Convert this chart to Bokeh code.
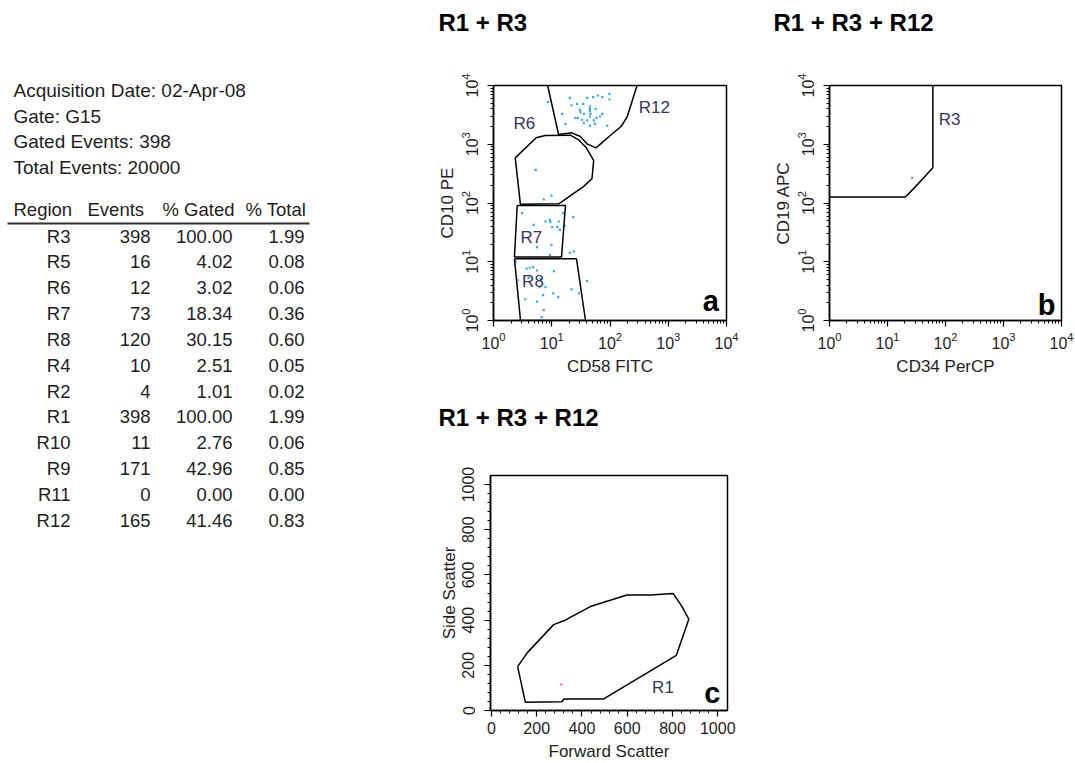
from bokeh.plotting import figure
from bokeh.layouts import row, column, Spacer
from bokeh.models import Range1d, FixedTicker, Label, ColumnDataSource
from bokeh.core.properties import value
from bokeh.embed import file_html
from bokeh.resources import INLINE

FONT = "Liberation Sans"
TXT = "#1e1e1e"
GATE_TXT = "#35385a"
DOT_BLUE = "#3aa6ee"
DOT_RED = "#ff6a6a"

# ---------------- statistics block ----------------
info_lines = ["Acquisition Date: 02-Apr-08", "Gate: G15", "Gated Events: 398", "Total Events: 20000"]
table_headers = ["Region", "Events", "% Gated", "% Total"]
regions = ["R3", "R5", "R6", "R7", "R8", "R4", "R2", "R1", "R10", "R9", "R11", "R12"]
events = [398, 16, 12, 73, 120, 10, 4, 398, 11, 171, 0, 165]
pct_gated = [100.00, 4.02, 3.02, 18.34, 30.15, 2.51, 1.01, 100.00, 2.76, 42.96, 0.00, 41.46]
pct_total = [1.99, 0.08, 0.06, 0.36, 0.60, 0.05, 0.02, 1.99, 0.06, 0.85, 0.00, 0.83]

# ---------------- panel a: CD58 FITC vs CD10 PE ----------------
a_dots_x = [8.6, 20.4, 40.6, 51.4, 61.8, 73.5, 98, 98, 27.3, 34.6, 45.1, 21.8, 15.1, 30.3, 35.6, 45.1, 46.2,
            56.4, 73.5, 67, 58.6, 45.1, 28.1, 25.6, 33.3, 40.6, 52.7, 55, 45.1, 35.6, 17.2, 89.5, 31.2, 45.1,
            7.3, 9.9, 5.3,
            3.1, 4.9, 7.8, 9.3, 9.5, 13.2, 15.7, 10.2, 12.4, 13.8, 16.6, 23.4, 5.6, 9.9, 9.3, 20.4, 23.9, 2.4,
            3.7, 4.2, 4.8, 5.6, 10.9, 2.6, 6.2, 7.8, 10.6, 12.9, 21.8, 29.2, 40.6, 3.5, 5.6, 7.1, 7.3, 6.7,
            4.5, 4.0, 6.4]
a_dots_y = [5200, 6170, 6170, 6320, 6760, 6320, 7210, 5780, 4880, 4880, 4400, 4570, 3300, 3860, 3300, 3660, 3300,
            4010, 3300, 2970, 2820, 2970, 2820, 2820, 2610, 2540, 2540, 2230, 2080, 2290, 2230, 2080, 3520, 4010,
            115, 134, 367,
            67, 42.5, 48.4, 51.8, 47.2, 48.4, 67, 38.8, 38.8, 35, 41.4, 57.4, 17.7, 19.4, 13.1, 14.2, 14.9, 10.1,
            7.6, 7.9, 8.1, 7.1, 6.9, 4.9, 3.7, 3.7, 2.9, 2.5, 3.4, 2.9, 4.7, 2.3, 2.1, 2.7, 1.5, 1.14,
            1.0, 5.3, 5.1]
gate_r12_x = [8.5, 13.1, 22.2, 30.9, 40.2, 57.4, 101, 155, 196, 291]
gate_r12_y = [10000, 1466, 1563, 1355, 1016, 869, 1409, 2005, 2891, 10000]
gate_r5_x = [2.9, 13.2, 21, 35, 49, 52.4, 39.2, 28.9, 20.8, 7.7, 5.4, 2.36, 2.9]
gate_r5_y = [95, 97, 134, 190, 258, 529, 869, 1189, 1428, 1409, 1286, 587, 95]
gate_r7_x = [2.55, 17.2, 14.7, 2.29, 2.55]
gate_r7_y = [90.7, 90.7, 12.0, 12.0, 90.7]
gate_r8_x = [2.29, 26.6, 38, 2.91, 2.29]
gate_r8_y = [11.2, 11.2, 1, 1, 11.2]
a_labels = ["R6", "R12", "R7", "R8"]
a_label_x = [2.2, 311, 2.9, 3.1]
a_label_y = [2230, 4300, 25.4, 4.7]

# ---------------- panel b: CD34 PerCP vs CD19 APC ----------------
b_dots_x = [26.6]
b_dots_y = [268]
gate_r3_x = [60.5, 60.5, 34.7, 20.4, 1]
gate_r3_y = [10000, 397, 218, 126, 126]
b_labels = ["R3"]
b_label_x = [76.6]
b_label_y = [2620]

# ---------------- panel c: Forward vs Side scatter ----------------
c_dots_x = [309]
c_dots_y = [115]
gate_r1_x = [116, 158, 275, 320, 437, 599, 702, 803, 842, 872, 817, 496, 320, 311, 150, 116]
gate_r1_y = [194, 255, 380, 397, 460, 511, 511, 518, 460, 404, 244, 51, 51, 39, 36, 194]
c_labels = ["R1"]
c_label_x = [710]
c_label_y = [102]

titles = ["R1 + R3", "R1 + R3 + R12", "R1 + R3 + R12"]

log_major = [1, 10, 100, 1000, 10000]
log_minor = [m * 10 ** e for e in range(4) for m in range(2, 10)]
lin_major = [0, 200, 400, 600, 800, 1000]
lin_minor = list(range(0, 1001, 40))


def style(p, log_axes):
    p.grid.visible = False
    p.outline_line_color = "black"
    p.outline_line_width = 1.5
    p.outline_line_alpha = 1.0
    p.background_fill_color = "white"
    p.border_fill_color = "white"
    for ax in p.axis:
        ax.axis_line_color = "black"
        ax.axis_line_width = 1.5
        ax.major_tick_line_color = "black"
        ax.minor_tick_line_color = "black"
        ax.major_tick_line_width = 1.2
        ax.major_tick_out = 6
        ax.major_tick_in = 0
        ax.minor_tick_out = 3
        ax.minor_tick_in = 0
        ax.major_label_text_font = FONT
        ax.major_label_text_font_size = "16px"
        ax.major_label_text_color = TXT
        ax.axis_label_text_font = FONT
        ax.axis_label_text_font_size = "17px"
        ax.axis_label_text_font_style = "normal"
        ax.axis_label_text_color = TXT
        if log_axes:
            ax.ticker = FixedTicker(ticks=log_major, minor_ticks=log_minor)
        else:
            ax.ticker = FixedTicker(ticks=lin_major, minor_ticks=lin_minor)
    p.yaxis.major_label_orientation = "vertical"
    p.yaxis.major_label_standoff = 10
    p.yaxis.axis_label_standoff = 1


def blank(p):
    p.axis.visible = False
    p.grid.visible = False
    p.outline_line_color = None
    p.background_fill_color = "white"
    p.border_fill_color = "white"


def title_fig(text, width, height, x, y):
    t = figure(width=width, height=height, x_range=Range1d(0, width), y_range=Range1d(height, 0),
               output_backend="svg", toolbar_location=None, min_border=0)
    blank(t)
    t.text(x=[x], y=[y], text=[text], text_font=value(FONT), text_font_size="24px",
           text_font_style="bold", text_color="black", text_align="left", text_baseline="middle")
    return t


def gate_labels(p, labels, xs, ys):
    p.text(x=xs, y=ys, text=labels, text_font=value(FONT), text_font_size="17px",
           text_color=GATE_TXT, text_align="left", text_baseline="middle")


def panel_letter(p, letter, x, y):
    p.add_layout(Label(x=x, y=y, text=letter, text_font=FONT, text_font_size="29px",
                       text_font_style="bold", text_color="black",
                       text_align="right", text_baseline="bottom"))


# ---- panel a
fa = figure(width=340, height=360, x_axis_type="log", y_axis_type="log",
            x_range=Range1d(1, 10000), y_range=Range1d(1, 10000),
            output_backend="svg", toolbar_location=None,
            min_border_left=63, min_border_right=44, min_border_top=45, min_border_bottom=80,
            x_axis_label="CD58 FITC", y_axis_label="CD10 PE")
style(fa, True)
fa.scatter(a_dots_x, a_dots_y, marker="square", size=2.2, color=DOT_BLUE, line_color=None)
fa.line(gate_r12_x, gate_r12_y, line_color="black", line_width=1.5)
fa.line(gate_r5_x, gate_r5_y, line_color="black", line_width=1.5)
fa.line(gate_r7_x, gate_r7_y, line_color="black", line_width=1.5)
fa.line(gate_r8_x, gate_r8_y, line_color="black", line_width=1.5)
gate_labels(fa, a_labels, a_label_x, a_label_y)
panel_letter(fa, "a", 7400, 1.15)

# ---- panel b
fb = figure(width=305, height=360, x_axis_type="log", y_axis_type="log",
            x_range=Range1d(1, 10000), y_range=Range1d(1, 10000),
            output_backend="svg", toolbar_location=None,
            min_border_left=59, min_border_right=14, min_border_top=45, min_border_bottom=80,
            x_axis_label="CD34 PerCP", y_axis_label="CD19 APC")
style(fb, True)
fb.scatter(b_dots_x, b_dots_y, marker="square", size=2.2, color=DOT_RED, line_color=None)
fb.line(gate_r3_x, gate_r3_y, line_color="black", line_width=1.5)
gate_labels(fb, b_labels, b_label_x, b_label_y)
panel_letter(fb, "b", 7900, 1.0)

# ---- panel c
fc = figure(width=340, height=323,
            x_range=Range1d(-4, 1043), y_range=Range1d(0, 1040),
            output_backend="svg", toolbar_location=None,
            min_border_left=60, min_border_right=43, min_border_top=35, min_border_bottom=51,
            x_axis_label="Forward Scatter", y_axis_label="Side Scatter")
style(fc, False)
fc.scatter(c_dots_x, c_dots_y, marker="square", size=2.2, color=DOT_RED, line_color=None)
fc.line(gate_r1_x, gate_r1_y, line_color="black", line_width=1.5)
gate_labels(fc, c_labels, c_label_x, c_label_y)
panel_letter(fc, "c", 1012, 8)

ta = title_fig(titles[0], 340, 40, 8, 22)
tb = title_fig(titles[1], 305, 40, 3, 22)
tc = title_fig(titles[2], 340, 40, 8, 17)

# ---- statistics text
info = figure(width=430, height=190, x_range=Range1d(0, 430), y_range=Range1d(190, 0),
              output_backend="svg", toolbar_location=None, min_border=0)
blank(info)
info_y = [90 + 25.7 * i for i in range(len(info_lines))]
info.text(x=[13] * len(info_lines), y=info_y, text=info_lines, text_font=value(FONT),
          text_font_size="19px", text_color=TXT, text_align="left", text_baseline="middle")

tbl = figure(width=430, height=573, x_range=Range1d(0, 430), y_range=Range1d(763, 190),
             output_backend="svg", toolbar_location=None, min_border=0)
blank(tbl)
head_x = [13, 87, 162, 245]
tbl.text(x=head_x, y=[209] * 4, text=table_headers, text_font=value(FONT), text_font_size="18.5px",
         text_color=TXT, text_align="left", text_baseline="middle")
tbl.line([7, 309], [223, 223], line_color="#333333", line_width=2.2)
row_y = [235.5 + 25.85 * i for i in range(len(regions))]
cols = [
    (70, regions),
    (150, [str(e) for e in events]),
    (232, ["%.2f" % v for v in pct_gated]),
    (304, ["%.2f" % v for v in pct_total]),
]
for cx, texts in cols:
    src = ColumnDataSource(dict(x=[cx] * len(texts), y=row_y, t=texts))
    tbl.text(x="x", y="y", text="t", source=src, text_font=value(FONT), text_font_size="18.5px",
             text_color=TXT, text_align="right", text_baseline="middle")

layout = row(
    column(info, tbl),
    column(row(ta, tb), row(fa, fb), row(tc, Spacer(width=395, height=40)),
           row(fc, Spacer(width=395, height=323))),
)

open("out.html", "w").write(file_html(layout, INLINE))
